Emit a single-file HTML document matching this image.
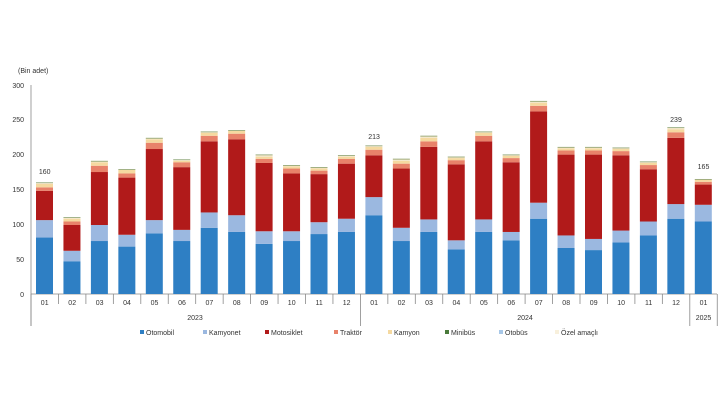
<!DOCTYPE html>
<html><head><meta charset="utf-8"><style>
body{margin:0;background:#fff;width:728px;height:410px;overflow:hidden;font-family:"Liberation Sans",sans-serif}
svg text{font-family:"Liberation Sans",sans-serif;font-size:7px;fill:#333}
</style></head><body>
<svg id="c" width="728" height="410" xmlns="http://www.w3.org/2000/svg">
<text x="18" y="73">(Bin adet)</text>
<g text-anchor="end">
<text x="24" y="297">0</text><text x="24" y="262">50</text><text x="24" y="227">100</text>
<text x="24" y="192">150</text><text x="24" y="157">200</text><text x="24" y="122">250</text><text x="24" y="88">300</text>
</g>
<line x1="31" y1="85" x2="31" y2="326" stroke="#888" stroke-width="0.8"/>
<line x1="31" y1="294" x2="717" y2="294" stroke="#888" stroke-width="0.8"/>
<g id="bars"></g>
<g id="ticks" text-anchor="middle">
<text x="44.7" y="305">01</text><text x="72.2" y="305">02</text><text x="99.6" y="305">03</text><text x="127" y="305">04</text><text x="154.5" y="305">05</text><text x="182" y="305">06</text><text x="209.4" y="305">07</text><text x="236.8" y="305">08</text><text x="264.3" y="305">09</text><text x="291.7" y="305">10</text><text x="319.2" y="305">11</text><text x="346.6" y="305">12</text><text x="374.1" y="305">01</text><text x="401.5" y="305">02</text><text x="429" y="305">03</text><text x="456.4" y="305">04</text><text x="483.9" y="305">05</text><text x="511.3" y="305">06</text><text x="538.8" y="305">07</text><text x="566.2" y="305">08</text><text x="593.7" y="305">09</text><text x="621.1" y="305">10</text><text x="648.6" y="305">11</text><text x="676" y="305">12</text><text x="703.5" y="305">01</text>
<text x="195" y="320">2023</text><text x="525" y="320">2024</text><text x="703.5" y="320">2025</text>
<text x="44.7" y="174">160</text><text x="374.1" y="139">213</text><text x="676" y="122">239</text><text x="703.5" y="169">165</text>
</g>
<g font-size="7">
<rect x="140" y="330" width="4" height="4" fill="#2e7fc4"/><text x="146" y="335">Otomobil</text>
<rect x="203" y="330" width="4" height="4" fill="#9bb8e0"/><text x="209" y="335">Kamyonet</text>
<rect x="265" y="330" width="4" height="4" fill="#b11a1a"/><text x="271" y="335">Motosiklet</text>
<rect x="334" y="330" width="4" height="4" fill="#e8826a"/><text x="340" y="335">Traktör</text>
<rect x="388" y="330" width="4" height="4" fill="#f5d9a0"/><text x="394" y="335">Kamyon</text>
<rect x="445" y="330" width="4" height="4" fill="#4a7a3a"/><text x="451" y="335">Minibüs</text>
<rect x="499" y="330" width="4" height="4" fill="#a8c8e8"/><text x="505" y="335">Otobüs</text>
<rect x="555" y="330" width="4" height="4" fill="#f8f0dc"/><text x="561" y="335">Özel amaçlı</text>
</g>
</svg>
<script>
var d=[[81,106,148,153,158,160],[47,62,99,104,108,110],[76,99,175,184,189,191],[68,85,167,173,178,179],[87,106,208,217,222,224],[76,92,182,189,191,193],[95,117,219,227,231,233],[89,113,222,230,234,235],[72,90,188,194,197,200],[76,90,173,180,183,185],[86,103,172,177,180,182],[89,108,187,194,197,199],[113,139,199,207,211,213],[76,95,180,187,191,194],[89,107,211,219,224,227],[64,77,186,192,195,197],[89,107,219,227,231,233],[77,89,189,195,198,200],[108,131,262,270,274,277],[66,84,200,206,209,211],[63,79,200,206,209,211],[74,91,199,205,208,210],[84,104,179,185,188,190],[108,129,224,232,236,239],[104,128,157,161,164,165]];
var col=["#2e7fc4","#9bb8e0","#b11a1a","#e8826a","#f5d9a0","#f3e6c8"];
var s="",k=0.697,sl=27.45;
d.forEach(function(b,i){var x=31+i*sl+5,p=0;b.forEach(function(v,j){var y0=294-p*k,y1=294-v*k;
s+='<rect x="'+x+'" y="'+y1+'" width="17" height="'+(y0-y1)+'" fill="'+col[j]+'"/>';p=v;});
s+='<rect x="'+x+'" y="'+(294-b[5]*k)+'" width="17" height="0.6" fill="#6a8a50"/>';
});
for(var i=0;i<=25;i++){var x=31+i*sl,h=(i==0||i==12||i==24||i==25)?326:304;s+='<line x1="'+x+'" y1="294" x2="'+x+'" y2="'+h+'" stroke="#888" stroke-width="0.8"/>';}
document.getElementById("bars").innerHTML=s;
</script>
</body></html>
